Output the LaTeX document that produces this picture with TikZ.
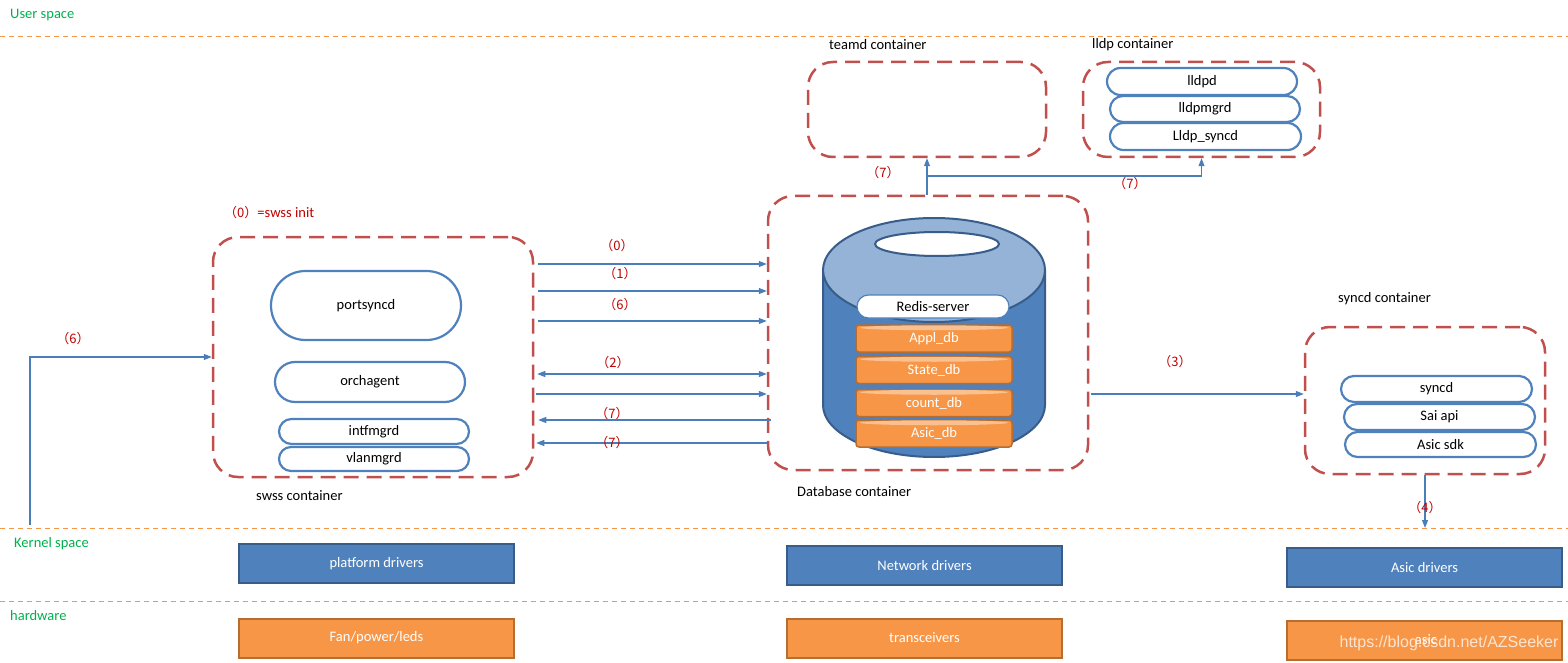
\documentclass[tikz,border=0pt]{standalone}
\usepackage{fontspec}
\setmainfont{Carlito}
\newfontfamily\cjk{Noto Sans CJK SC}
\newfontfamily\wmfont{Liberation Sans}
\usetikzlibrary{shapes.misc, arrows.meta, calc}
\definecolor{cont}{HTML}{C0504D}
\definecolor{ublue}{HTML}{4F81BD}
\definecolor{dblue}{HTML}{385D8A}
\definecolor{lblue}{HTML}{95B3D7}
\definecolor{orng}{HTML}{F79646}
\definecolor{dorng}{HTML}{B66D31}
\definecolor{lorng}{HTML}{FAC090}
\definecolor{grn}{HTML}{00B050}
\definecolor{numred}{HTML}{C00000}
\definecolor{arr}{HTML}{4A7EBB}
\definecolor{layerc}{HTML}{F79646}
\begin{document}
\begin{tikzpicture}[x=1pt,y=-1pt, font=\fontsize{14.5}{16}\selectfont,
  container/.style={draw=cont, line width=2.5pt, dash pattern=on 15pt off 8pt, rounded corners=25pt, inner sep=0pt},
  proc/.style={rounded rectangle, draw=ublue, line width=2.2pt, fill=white, inner sep=0pt},
  drvbox/.style={draw=dblue, fill=ublue, line width=2pt, text=white, inner sep=0pt, minimum width=275, minimum height=39},
  hwbox/.style={draw=dorng, fill=orng, line width=2pt, text=white, inner sep=0pt, minimum width=275, minimum height=39},
  disk/.style={draw=dorng, fill=orng, line width=1.5pt, rounded corners=3pt, text=white, inner sep=0pt, minimum width=156, minimum height=27},
  layer/.style={draw=layerc, line width=0.8pt, dash pattern=on 5pt off 4pt},
  space/.style={text=grn, anchor=west, inner sep=0pt},
  lbl/.style={text=black, anchor=west, inner sep=0pt},
  num/.style={text=numred, font=\cjk\fontsize{13}{15}\selectfont, inner sep=0pt},
  conn/.style={draw=arr, line width=1.1pt, -{Triangle[length=8pt,width=6pt]}},
  dconn/.style={draw=arr, line width=1.1pt, {Triangle[length=8pt,width=6pt]}-{Triangle[length=8pt,width=6pt]}},
  cylline/.style={draw=dblue, line width=2pt}
]
\useasboundingbox (0,0) rectangle (1568,663);

% layers
\draw[layer] (0,36) -- (1568,36);
\draw[layer] (0,528) -- (1568,528);
\draw[layer] (0,601) -- (1568,601);
\node[space] (us) at (10,15) {User space};
\node[space] (ks) at (14,544) {Kernel space};
\node[space] (hw) at (10,616) {hardware};

% containers
\node[container, minimum width=320, minimum height=240] (swss) at (373,357) {};
\node[container, minimum width=320, minimum height=274] (db) at (928,333) {};
\node[container, minimum width=238, minimum height=95] (teamd) at (927,109.5) {};
\node[container, minimum width=237, minimum height=95] (lldp) at (1201.5,109.5) {};
\node[container, minimum width=240, minimum height=147] (syncd) at (1425,400.5) {};

\node[lbl] (swssl) at (256,496) {swss container};
\node[lbl] (dbl) at (797,492) {Database container};
\node[lbl] (teamdl) at (829,45) {teamd container};
\node[lbl] (lldpl) at (1092,45) {lldp container};
\node[lbl] (syncdl) at (1338,299) {syncd container};
\node[anchor=west, inner sep=0pt, text=numred] (init) at (224,213) {{\cjk\fontsize{13}{15}\selectfont （0）}=swss init};

% swss processes
\node[proc, minimum width=190, minimum height=69] (portsyncd) at (366,305.5) {portsyncd};
\node[proc, minimum width=190, minimum height=40] (orchagent) at (370,382) {orchagent};
\node[proc, minimum width=190, minimum height=25] (intfmgrd) at (374,431.5) {intfmgrd};
\node[proc, minimum width=190, minimum height=24] (vlanmgrd) at (374,459) {vlanmgrd};

% lldp processes
\node[proc, minimum width=190, minimum height=27] (lldpd) at (1202,81.5) {lldpd};
\node[proc, minimum width=190, minimum height=26] (lldpmgrd) at (1205,109) {lldpmgrd};
\node[proc, minimum width=191, minimum height=27] (lldpsyncd) at (1205.5,136.5) {Lldp\_syncd};

% syncd processes
\node[proc, minimum width=191, minimum height=26] (syncdp) at (1436.5,389) {syncd};
\node[proc, minimum width=191, minimum height=26] (saiapi) at (1439.5,417) {Sai api};
\node[proc, minimum width=191, minimum height=25] (asicsdk) at (1440.5,444.5) {Asic sdk};

% redis cylinder
\fill[ublue] (934,405) ellipse[x radius=111, y radius=52];
\fill[ublue] (823,270) rectangle (1045,405);
\draw[cylline] (823,270) -- (823,405) arc[start angle=180, end angle=0, x radius=111, y radius=52] -- (1045,270);
\draw[cylline, fill=lblue] (934,270) ellipse[x radius=111, y radius=52];
\draw[cylline, fill=white] (937,244) ellipse[x radius=62, y radius=12];
\node[rounded rectangle, fill=white, draw=ublue, line width=1.2pt, minimum width=152, minimum height=23, inner sep=0pt] (redis) at (933,306.5) {Redis-server};
\foreach \n/\t/\y in {appl/Appl\_db/338.5, state/State\_db/370, count/count\_db/403, asic/Asic\_db/433.5}{
  \node[disk] (\n) at (934,\y) {\t};
  \fill[lorng] ($(\n.north)+(0,3.5)$) ellipse[x radius=74, y radius=2.5];
}

% drivers / hardware
\node[drvbox] (pd) at (376.5,563.5) {platform drivers};
\node[drvbox] (nd) at (924.5,565.5) {Network drivers};
\node[drvbox] (ad) at (1424.5,567.5) {Asic drivers};
\node[hwbox] (fan) at (376.5,638) {Fan/power/leds};
\node[hwbox] (trx) at (924.5,638) {transceivers};
\node[hwbox] (asichw) at (1424.5,640.5) {};
\node[text=white, inner sep=0pt] (asict) at (1426,640) {asic};
\node[text=white, opacity=0.75, font=\wmfont\fontsize{16}{18}\selectfont, inner sep=0pt] (wm) at (1449,643) {https://blog.csdn.net/AZSeeker};

% swss <-> db connectors
\draw[conn, shorten <=4pt] (swss.east |- 0,264) -- (db.west |- 0,264);
\draw[conn, shorten <=4pt] (swss.east |- 0,291) -- (db.west |- 0,291);
\draw[conn, shorten <=4pt] (swss.east |- 0,321) -- (db.west |- 0,321);
\draw[dconn, shorten <=3pt] (swss.east |- 0,374) -- (db.west |- 0,374);
\draw[conn, shorten <=2pt] (swss.east |- 0,394) -- (db.west |- 0,394);
\draw[conn, shorten >=4pt, shorten <=-4pt] (db.west |- 0,420) -- (swss.east |- 0,420);
\draw[conn, shorten >=2pt] (db.west |- 0,443) -- (swss.east |- 0,443);
\node[num] (n0) at (617,246) {（0）};
\node[num] (n1) at (620,274) {（1）};
\node[num] (n6) at (620,305) {（6）};
\node[num] (n2) at (613,363) {（2）};
\node[num] (n7a) at (612,414) {（7）};
\node[num] (n7b) at (612,443) {（7）};

% db -> teamd / lldp
\draw[conn] (db.north -| teamd.south) -- (teamd.south);
\draw[conn] (teamd.south |- 0,176) -| (lldp.south);
\node[num] (n7c) at (883,173) {（7）};
\node[num] (n7d) at (1130,184) {（7）};

% db -> syncd
\draw[conn, shorten <=2pt] (db.east |- 0,394) -- (syncd.west |- 0,394);
\node[num] (n3) at (1175,362) {（3）};

% syncd -> kernel
\coordinate (k4) at (1425,528);
\draw[conn] (syncd.south) -- (k4);
\node[num] (n4) at (1425,508) {（4）};

% kernel -> swss
\coordinate (k6) at (30,525);
\draw[conn] (k6) |- (swss.west);
\node[num] (n6b) at (73,339) {（6）};
\end{tikzpicture}
\end{document}
